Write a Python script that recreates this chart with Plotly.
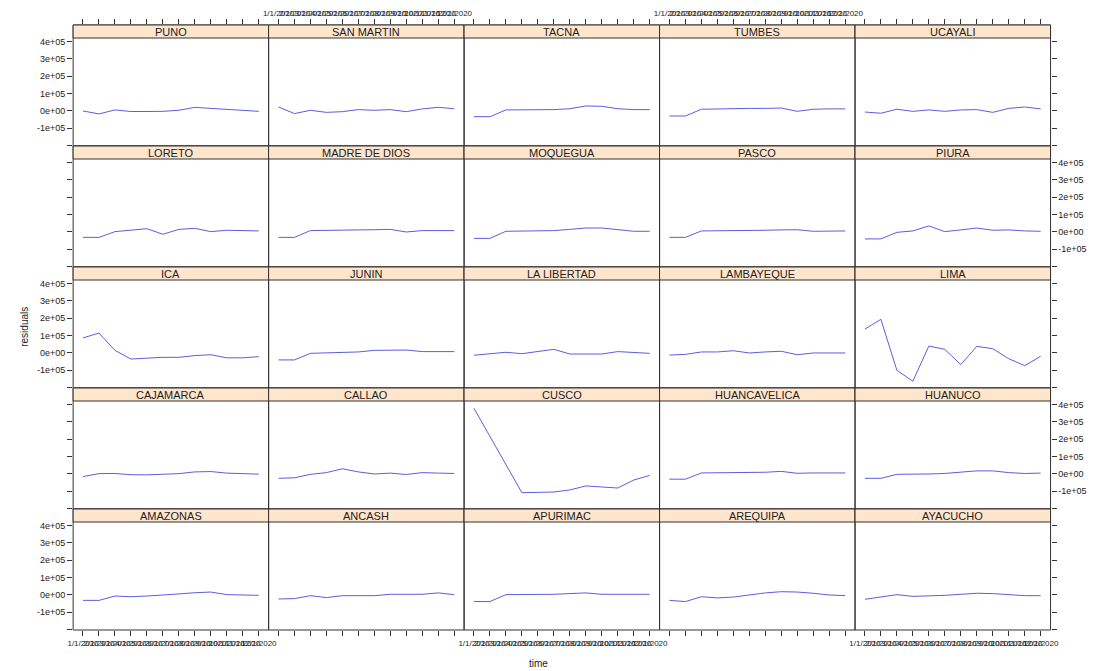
import plotly.graph_objects as go

# Monthly tick labels shared by every panel
months = ["1/1/2020", "2/1/2020", "3/1/2020", "4/1/2020", "5/1/2020", "6/1/2020",
          "7/1/2020", "8/1/2020", "9/1/2020", "10/1/2020", "11/1/2020", "12/1/2020"]

# Residuals per region (one value per month)
puno = [0, -17000, 6000, -3000, -3000, -2000, 4000, 21000, 15000, 9000, 0, -2000]
san_martin = [23000, -15000, 4000, -8000, -4000, 8000, 4000, 8000, -4000, 12000, 21000, 13000]
tacna = [-33000, -33000, 6000, 6000, 6000, 8000, 13000, 29000, 27000, 13000, 8000, 8000]
tumbes = [-29000, -29000, 10000, 13000, 15000, 15000, 15000, 17000, -2000, 10000, 12000, 12000]
ucayali = [-6000, -13000, 10000, -2000, 6000, -2000, 6000, 8000, -8000, 15000, 23000, 12000]

loreto = [-31000, -31000, 2000, 10000, 19000, -13000, 15000, 21000, 2000, 10000, 8000, 6000]
madre_de_dios = [-31000, -31000, 8000, 8000, 8000, 12000, 13000, 15000, 0, 8000, 8000, 8000]
moquegua = [-37000, -37000, 4000, 4000, 6000, 8000, 15000, 23000, 23000, 15000, 4000, 4000]
pasco = [-31000, -31000, 6000, 6000, 6000, 8000, 10000, 12000, 13000, 4000, 6000, 6000]
piura = [-40000, -40000, -2000, 6000, 35000, 2000, 12000, 23000, 10000, 12000, 6000, 4000]

ica = [87000, 115000, 15000, -35000, -30000, -25000, -25000, -15000, -10000, -28000, -28000, -21000]
junin = [-40000, -40000, -2000, 0, 2000, 6000, 15000, 15000, 17000, 8000, 8000, 8000]
la_libertad = [-13000, -6000, 4000, -4000, 8000, 21000, -6000, -6000, -6000, 8000, 2000, -2000]
lambayeque = [-12000, -8000, 6000, 6000, 13000, 0, 6000, 10000, -10000, 0, 0, 0]
lima = [138000, 194000, -100000, -163000, 40000, 21000, -67000, 38000, 25000, -33000, -73000, -19000]

cajamarca = [-15000, 2000, 3000, -4000, -5000, -3000, 2000, 12000, 14000, 5000, 2000, -1000]
callao = [-25000, -22000, -2000, 8000, 30000, 12000, 0, 5000, -3000, 8000, 5000, 3000]
cusco = [379000, 219000, 56000, -108000, -106000, -104000, -92000, -69000, -75000, -81000, -35000, -8000]
huancavelica = [-30000, -30000, 6000, 6000, 6000, 8000, 10000, 15000, 4000, 6000, 6000, 6000]
huanuco = [-25000, -25000, -2000, -2000, 0, 3000, 10000, 18000, 18000, 8000, 3000, 5000]

amazonas = [-31000, -31000, -6000, -10000, -6000, -2000, 6000, 13000, 17000, 2000, -2000, -2000]
ancash = [-23000, -21000, -4000, -15000, -4000, -4000, -4000, 4000, 6000, 4000, 12000, 2000]
apurimac = [-38000, -38000, 2000, 2000, 2000, 4000, 8000, 12000, 4000, 4000, 4000, 4000]
arequipa = [-31000, -38000, -10000, -17000, -12000, 0, 12000, 19000, 17000, 10000, 0, -4000]
ayacucho = [-25000, -12000, 2000, -8000, -6000, -2000, 4000, 10000, 8000, 0, -4000, -4000]

# Panel grid, top row first
grid = [
    [("PUNO", puno), ("SAN MARTIN", san_martin), ("TACNA", tacna), ("TUMBES", tumbes), ("UCAYALI", ucayali)],
    [("LORETO", loreto), ("MADRE DE DIOS", madre_de_dios), ("MOQUEGUA", moquegua), ("PASCO", pasco), ("PIURA", piura)],
    [("ICA", ica), ("JUNIN", junin), ("LA LIBERTAD", la_libertad), ("LAMBAYEQUE", lambayeque), ("LIMA", lima)],
    [("CAJAMARCA", cajamarca), ("CALLAO", callao), ("CUSCO", cusco), ("HUANCAVELICA", huancavelica), ("HUANUCO", huanuco)],
    [("AMAZONAS", amazonas), ("ANCASH", ancash), ("APURIMAC", apurimac), ("AREQUIPA", arequipa), ("AYACUCHO", ayacucho)],
]

ytick_vals = [-200000, -100000, 0, 100000, 200000, 300000, 400000]
ytick_text = ["", "-1e+05", "0e+00", "1e+05", "2e+05", "3e+05", "4e+05"]

W, H = 1100, 671
LEFT, PW = 68, 198
TOP, RH, STRIP = 25, 121, 13
Y_LO, Y_PLOT_HI = -202000, 421000
Y_HI = Y_PLOT_HI + STRIP * (Y_PLOT_HI - Y_LO) / (RH - STRIP)
X_RANGE = [0.383, 12.617]

FONT = "Liberation Sans, Arial, sans-serif"
EDGE = "#333333"
LINE = "#5c5ce0"
STRIP_BG = "#ffe5cc"
TXT = "#222222"

xpos = list(range(1, len(months) + 1))

fig = go.Figure()
layout = {}
shapes = []
annotations = []

for r, row in enumerate(grid):
    for c, (name, vals) in enumerate(row):
        k = r * 5 + c + 1
        sx = "" if k == 1 else str(k)
        x0 = LEFT + c * PW
        x1 = x0 + PW
        yt = TOP + r * RH
        yb = yt + RH

        fig.add_trace(go.Scatter(
            x=xpos, y=vals, mode="lines",
            line=dict(color=LINE, width=1),
            xaxis="x" + sx, yaxis="y" + sx,
            showlegend=False, hoverinfo="skip",
        ))

        xa = dict(
            domain=[x0 / W, x1 / W], range=X_RANGE, anchor="y" + sx,
            showgrid=False, zeroline=False, showline=False,
            tickmode="array", tickvals=xpos, ticktext=months, tickangle=0,
            tickfont=dict(family=FONT, size=8, color=TXT),
            ticks="", showticklabels=False, ticklen=5, tickcolor=EDGE,
        )
        if r == 0:
            xa.update(side="top", ticks="outside", showticklabels=(c in (1, 3)))
        elif r == 4:
            xa.update(side="bottom", ticks="outside", showticklabels=(c in (0, 2, 4)))

        ya = dict(
            domain=[1 - yb / H, 1 - yt / H], range=[Y_LO, Y_HI], anchor="x" + sx,
            showgrid=False, zeroline=False, showline=False,
            tickmode="array", tickvals=ytick_vals, ticktext=ytick_text,
            tickfont=dict(family=FONT, size=9, color=TXT),
            ticks="", showticklabels=False, ticklen=5, tickcolor=EDGE,
        )
        if c == 0:
            ya.update(side="left", ticks="outside", showticklabels=(r in (0, 2, 4)))
        elif c == 4:
            ya.update(side="right", ticks="outside", showticklabels=(r in (1, 3)))

        layout["xaxis" + sx] = xa
        layout["yaxis" + sx] = ya

        # panel frame
        shapes.append(dict(
            type="rect", xref="paper", yref="paper",
            x0=x0 / W, x1=x1 / W, y0=1 - yb / H, y1=1 - yt / H,
            fillcolor="rgba(0,0,0,0)", line=dict(color=EDGE, width=1), layer="above",
        ))
        # strip header
        shapes.append(dict(
            type="rect", xref="paper", yref="paper",
            x0=x0 / W, x1=x1 / W, y0=1 - (yt + STRIP) / H, y1=1 - yt / H,
            fillcolor=STRIP_BG, line=dict(color=EDGE, width=1), layer="above",
        ))
        annotations.append(dict(
            text=name, xref="paper", yref="paper",
            x=(x0 + x1) / 2 / W, y=1 - (yt + STRIP / 2 + 0.5) / H,
            xanchor="center", yanchor="middle", showarrow=False,
            font=dict(family=FONT, size=11, color=TXT),
        ))

annotations.append(dict(
    text="residuals", xref="paper", yref="paper",
    x=18 / W, y=1 - 327 / H, textangle=-90,
    xanchor="center", yanchor="middle", showarrow=False,
    font=dict(family=FONT, size=10, color=TXT),
))
annotations.append(dict(
    text="time", xref="paper", yref="paper",
    x=539 / W, y=1 - 663 / H,
    xanchor="center", yanchor="middle", showarrow=False,
    font=dict(family=FONT, size=10, color=TXT),
))

fig.update_layout(
    width=W, height=H,
    margin=dict(l=0, r=0, t=0, b=0),
    paper_bgcolor="white", plot_bgcolor="white",
    shapes=shapes, annotations=annotations,
    **layout,
)

fig.write_html("out.html")
